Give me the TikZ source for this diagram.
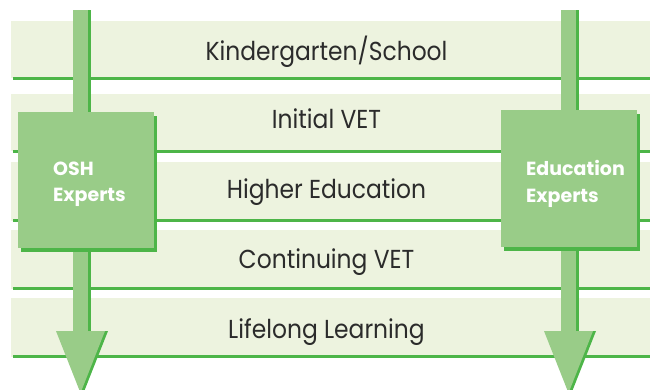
\documentclass[tikz,border=0pt]{standalone}
\usepackage{fontspec}
\setmainfont{Poppins}
\newfontfamily\bandfont[FakeStretch=0.9]{Poppins}
\definecolor{bandfill}{HTML}{EDF3DF}
\definecolor{bandline}{HTML}{4DB548}
\definecolor{boxfill}{HTML}{99CC88}
\definecolor{shadowc}{HTML}{4DB548}
\definecolor{txt}{HTML}{2B2B2B}
\tikzset{
  bandtext/.style={anchor=base, inner sep=0pt, text=txt, font=\bandfont\fontsize{26}{30}\selectfont},
  boxtext/.style={anchor=base west, inner sep=0pt, text=white, align=left, font=\fontsize{19}{26}\selectfont\bfseries},
  expbox/.style={fill=boxfill, draw=none, minimum width=136pt, minimum height=136pt, inner sep=0pt},
  expshadow/.style={fill=shadowc, draw=none, minimum width=136pt, minimum height=136pt, inner sep=0pt},
}
\begin{document}
\begin{tikzpicture}[x=1pt,y=-1pt]
\useasboundingbox (0,0) rectangle (650,390);
% bands
\foreach \t/\l/\b/\n/\s in {21/78.5/61/kg/{Kindergarten/School},94/151.5/129/ivet/{Initial VET},162/220.5/199/he/{Higher Education},230/288.5/268/cvet/{Continuing VET},298/356.5/338/ll/{Lifelong Learning}}{
  \fill[bandfill] (11,\t) rectangle (650,\l);
  \draw[bandline, line width=3pt] (13,\l) -- (650,\l);
  \node[bandtext] (\n) at (326.5,\b) {\s};
}
% arrow coordinates
\coordinate (Ltop) at (80.5,10);
\coordinate (Lhead) at (80.5,331);
\coordinate (Ltip) at (80.5,393);
\coordinate (Rtop) at (568.5,10);
\coordinate (Rhead) at (568.5,331);
\coordinate (Rtip) at (568.5,393);
% left arrow
\fill[shadowc] ([xshift=-4.5pt]Ltop) rectangle ([xshift=10.5pt]Lhead);
\fill[boxfill] ([xshift=-7.5pt]Ltop) rectangle ([xshift=7.5pt]Lhead);
\fill[shadowc] ([xshift=-21.5pt]Lhead) -- ([xshift=27.5pt]Lhead) -- ([xshift=3pt]Ltip) -- cycle;
\fill[boxfill] ([xshift=-24.5pt]Lhead) -- ([xshift=24.5pt]Lhead) -- (Ltip) -- cycle;
% right arrow
\fill[shadowc] ([xshift=-4.5pt]Rtop) rectangle ([xshift=10.5pt]Rhead);
\fill[boxfill] ([xshift=-7.5pt]Rtop) rectangle ([xshift=7.5pt]Rhead);
\fill[shadowc] ([xshift=-21.5pt]Rhead) -- ([xshift=27.5pt]Rhead) -- ([xshift=3pt]Rtip) -- cycle;
\fill[boxfill] ([xshift=-24.5pt]Rhead) -- ([xshift=24.5pt]Rhead) -- (Rtip) -- cycle;
% boxes
\node[expshadow] (oshs) at (89,184) {};
\node[expbox] (osh) at (86,180) {};
\node[boxtext] (oshtext) at (53,201) {OSH\\Experts};
\node[expshadow] (edus) at (572,182.5) {};
\node[expbox] (edu) at (569,178.5) {};
\node[boxtext] (edutext) at (526,202) {Education\\Experts};
\end{tikzpicture}
\end{document}
